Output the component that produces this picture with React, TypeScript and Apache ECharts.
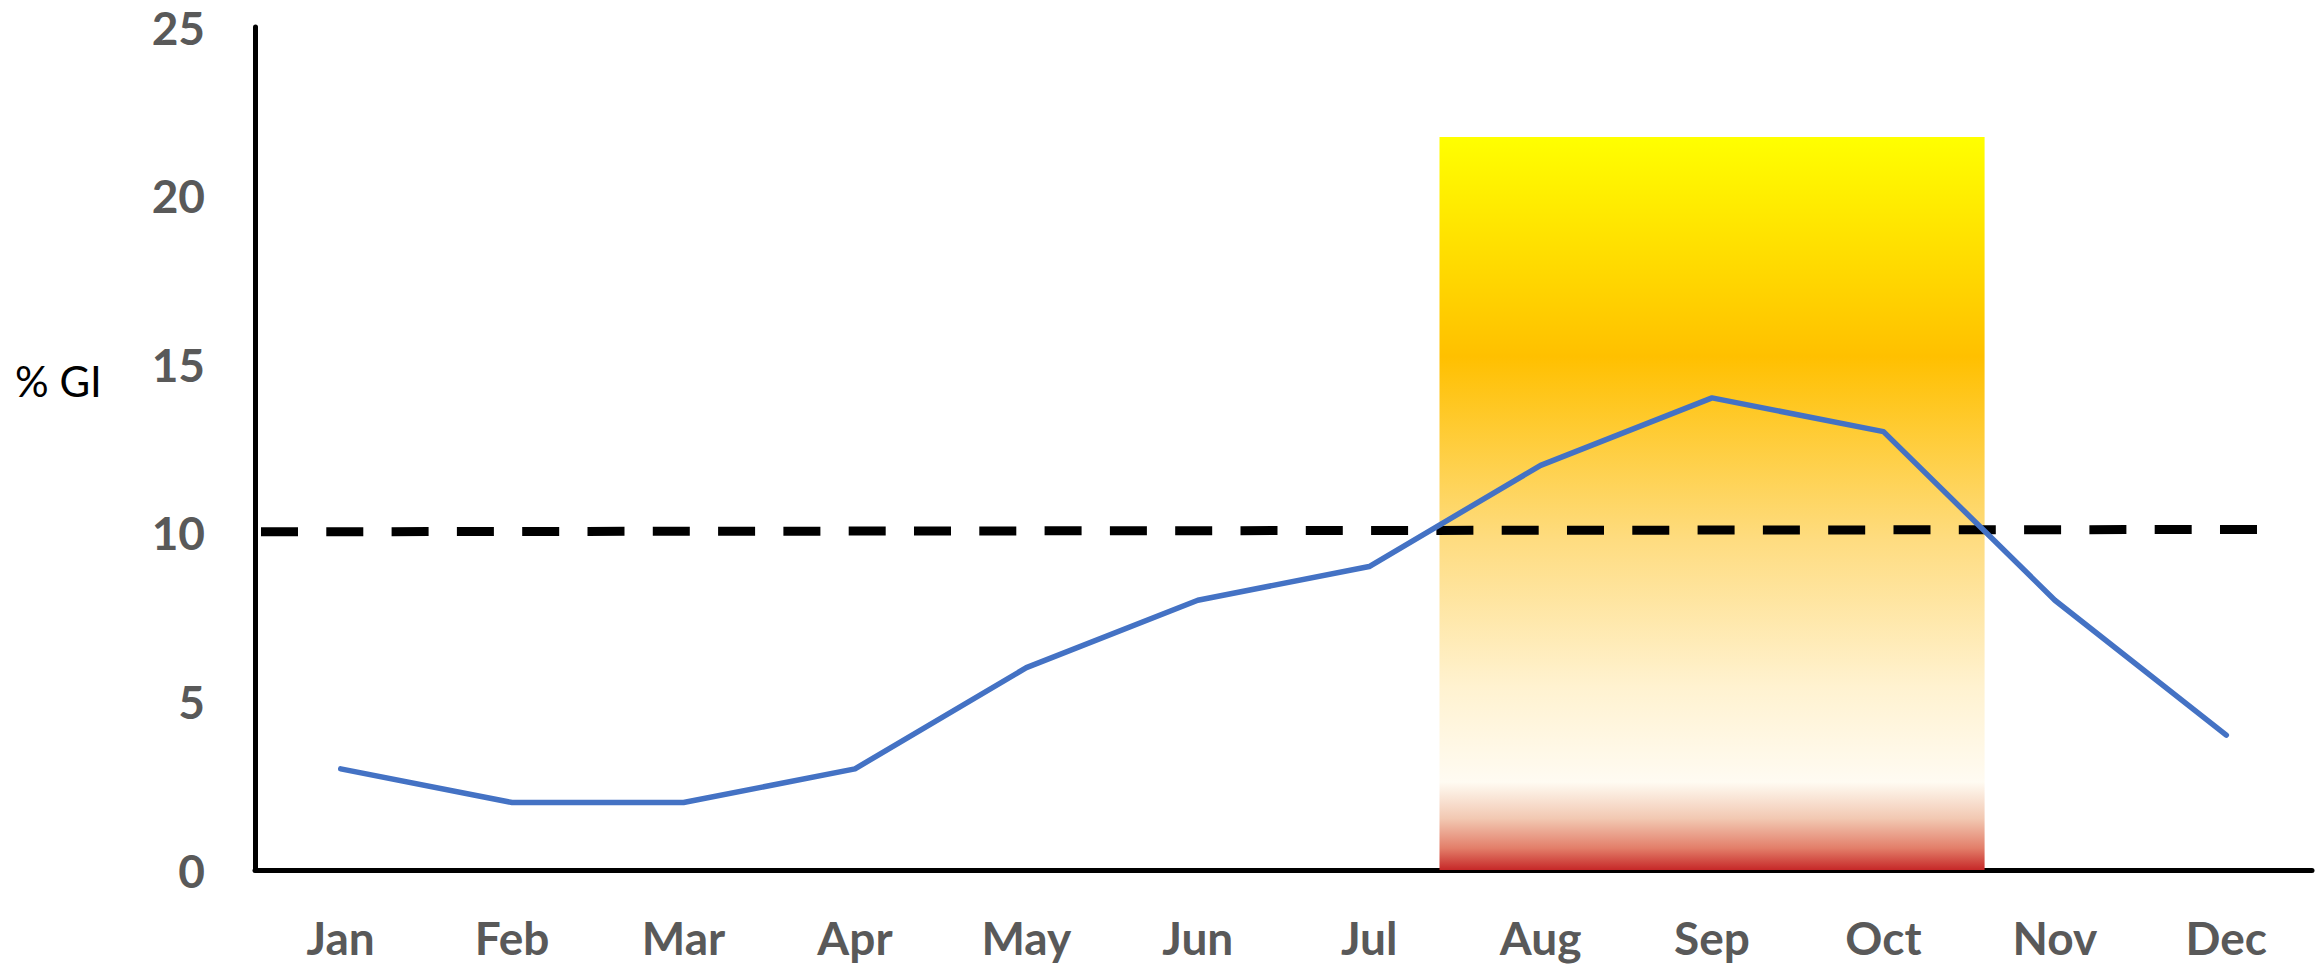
import React, { useEffect, useRef } from "react";
import * as echarts from "echarts";

// Monthly share of GI (%)
const months = ["Jan", "Feb", "Mar", "Apr", "May", "Jun", "Jul", "Aug", "Sep", "Oct", "Nov", "Dec"];
const giPercent = [3, 2, 2, 3, 6, 8, 9, 12, 14, 13, 8, 4];

// Threshold line (slightly rising from left to right)
const thresholdStart = 10.03;
const thresholdEnd = 10.1;

// Highlighted season band, in month-index units along the x axis
const seasonFrom = 6.41;
const seasonTo = 9.59;
const seasonTop = 21.74;

const yTicks = { min: 0, max: 25, interval: 5 };

export default function App() {
  const ref = useRef<HTMLDivElement>(null);

  useEffect(() => {
    if (!ref.current) return;
    const chart = echarts.init(ref.current, null, { renderer: "svg" });

    const labelStyle = {
      fontFamily: "Lato",
      fontWeight: "bold" as const,
      fontSize: 46,
      color: "#595959",
    };

    chart.setOption({
      animation: false,
      grid: { left: 255, right: 8, top: 27, bottom: 96, containLabel: false },
      xAxis: [
        {
          type: "category",
          data: months,
          boundaryGap: true,
          axisLine: { show: true, onZero: false, lineStyle: { color: "#000", width: 5 } },
          axisTick: { show: false },
          axisLabel: { ...labelStyle, margin: 44 },
          splitLine: { show: false },
        },
        {
          type: "value",
          min: -0.5,
          max: 11.5,
          show: false,
        },
      ],
      yAxis: {
        type: "value",
        min: yTicks.min,
        max: yTicks.max,
        interval: yTicks.interval,
        axisLine: { show: true, onZero: false, lineStyle: { color: "#000", width: 5 } },
        axisTick: { show: false },
        splitLine: { show: false },
        axisLabel: { ...labelStyle, margin: 50 },
      },
      graphic: [
        {
          type: "text",
          left: 15,
          top: 360,
          style: {
            text: "% GI",
            fontFamily: "Lato",
            fontSize: 42,
            fill: "#000",
          },
        },
      ],
      series: [
        {
          type: "custom",
          xAxisIndex: 1,
          z: 1,
          data: [[seasonFrom, seasonTo, seasonTop]],
          renderItem: (params: any, api: any) => {
            const p0 = api.coord([api.value(0), api.value(2)]);
            const p1 = api.coord([api.value(1), 0]);
            return {
              type: "rect",
              shape: { x: p0[0], y: p0[1], width: p1[0] - p0[0], height: p1[1] - p0[1] },
              style: {
                fill: new echarts.graphic.LinearGradient(0, 0, 0, 1, [
                  { offset: 0, color: "#FFFF00" },
                  { offset: 0.3, color: "#FFC000" },
                  { offset: 0.55, color: "#FEDC80" },
                  { offset: 0.75, color: "#FFF2D0" },
                  { offset: 0.88, color: "#FFFBF2" },
                  { offset: 0.93, color: "#F2C8B2" },
                  { offset: 0.97, color: "#E37F6A" },
                  { offset: 1, color: "#C62828" },
                ]),
              },
            };
          },
        },
        {
          type: "line",
          xAxisIndex: 1,
          z: 3,
          data: [
            [-0.465, thresholdStart],
            [11.2, thresholdEnd],
          ],
          showSymbol: false,
          silent: true,
          lineStyle: { color: "#000", width: 9, type: [37, 28.3], cap: "butt" },
        },
        {
          type: "line",
          z: 4,
          data: giPercent,
          showSymbol: false,
          lineStyle: { color: "#4472C4", width: 5.5, cap: "round", join: "round" },
        },
      ],
    });

    return () => chart.dispose();
  }, []);

  return (
    <div
      ref={ref}
      style={{ position: "fixed", left: 0, top: 0, width: 2320, height: 966, background: "#fff" }}
    />
  );
}
